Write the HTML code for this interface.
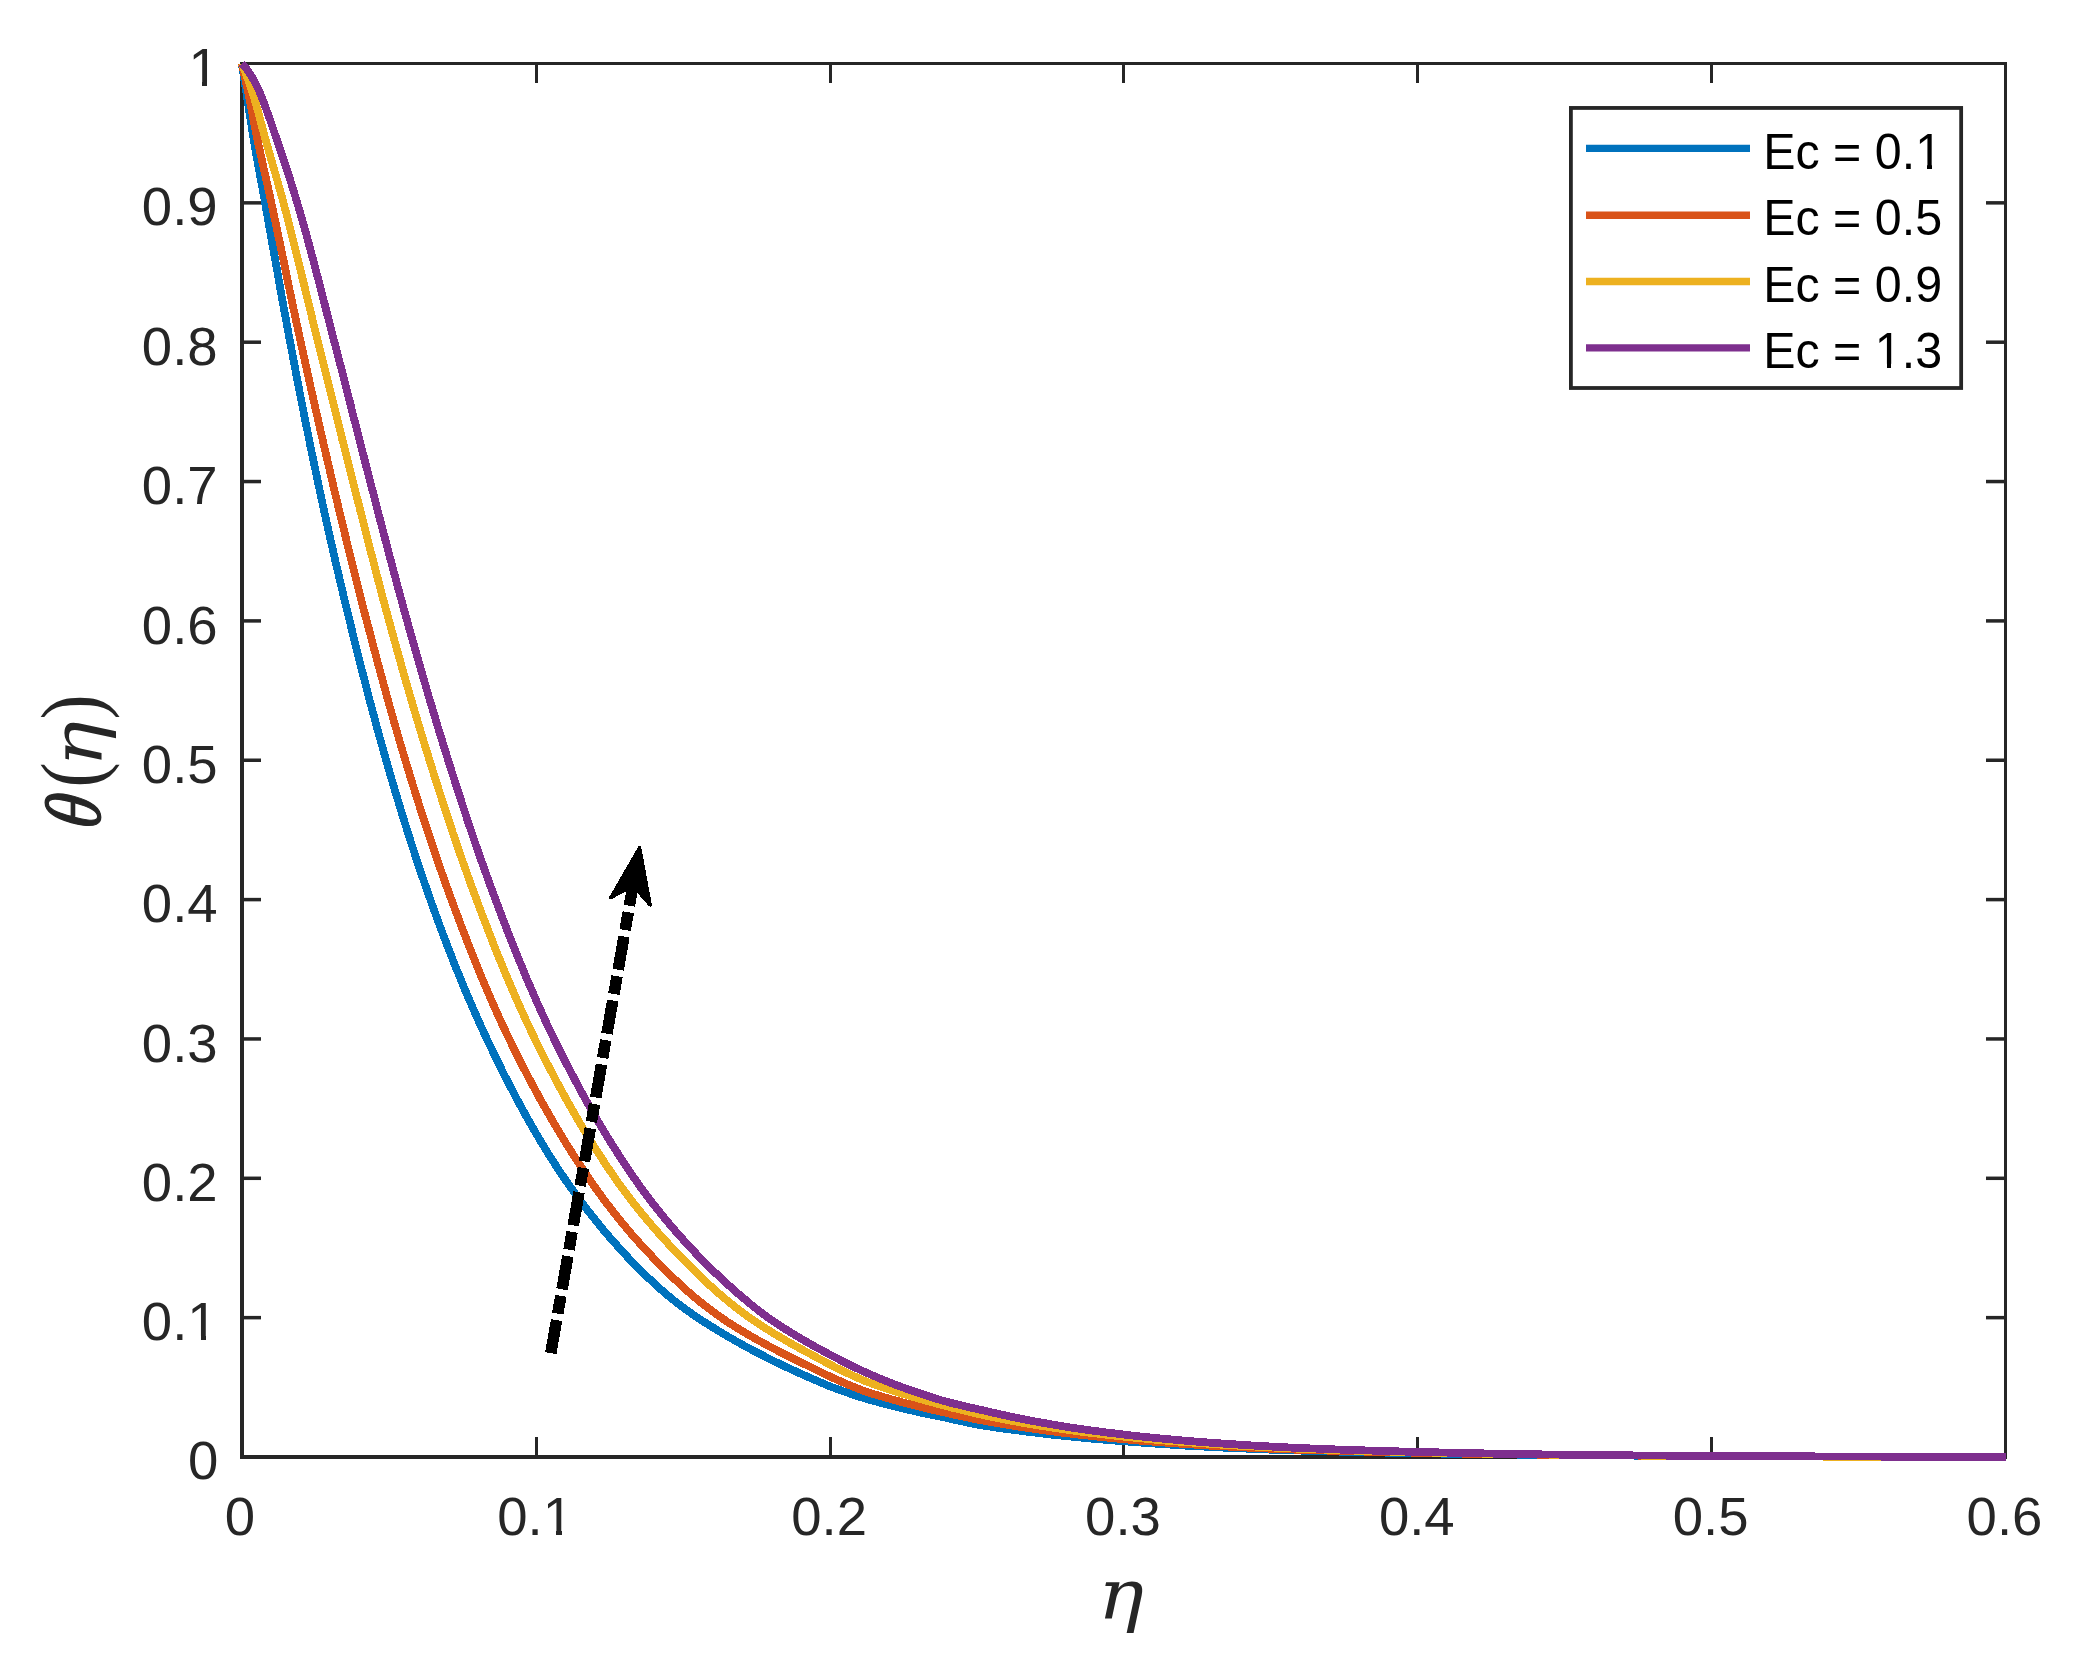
<!DOCTYPE html>
<html lang="en"><head><meta charset="utf-8"><title>θ(η) versus η for several Ec</title>
<style>html,body{margin:0;padding:0;background:#fff}body{width:2078px;height:1671px;overflow:hidden}svg{display:block}.tk{font-family:"Liberation Sans",sans-serif;font-size:54.5px;fill:#262626}.lg{font-family:"Liberation Sans",sans-serif;font-size:50px;fill:#000}.mi{font-style:italic;fill:#262626}.mr{fill:#262626}</style></head><body>
<svg width="2078" height="1671" viewBox="0 0 2078 1671">
<rect width="2078" height="1671" fill="#fff"/>
<g fill="#262626" shape-rendering="crispEdges">
<rect x="240" y="62" width="4" height="1397"/>
<rect x="240" y="1455" width="1767" height="4"/>
<rect x="240" y="62" width="1767" height="3"/>
<rect x="2004" y="62" width="3" height="1397"/>
<rect x="535" y="1437" width="3" height="18"/>
<rect x="535" y="65" width="3" height="18"/>
<rect x="829" y="1437" width="3" height="18"/>
<rect x="829" y="65" width="3" height="18"/>
<rect x="1122" y="1437" width="3" height="18"/>
<rect x="1122" y="65" width="3" height="18"/>
<rect x="1416" y="1437" width="3" height="18"/>
<rect x="1416" y="65" width="3" height="18"/>
<rect x="1710" y="1437" width="3" height="18"/>
<rect x="1710" y="65" width="3" height="18"/>
</g>
<g fill="#262626">
<rect x="244" y="201.10" width="17" height="3.5"/>
<rect x="1986" y="201.10" width="18" height="3.5"/>
<rect x="244" y="340.45" width="17" height="3.5"/>
<rect x="1986" y="340.45" width="18" height="3.5"/>
<rect x="244" y="479.80" width="17" height="3.5"/>
<rect x="1986" y="479.80" width="18" height="3.5"/>
<rect x="244" y="619.15" width="17" height="3.5"/>
<rect x="1986" y="619.15" width="18" height="3.5"/>
<rect x="244" y="758.50" width="17" height="3.5"/>
<rect x="1986" y="758.50" width="18" height="3.5"/>
<rect x="244" y="897.85" width="17" height="3.5"/>
<rect x="1986" y="897.85" width="18" height="3.5"/>
<rect x="244" y="1037.20" width="17" height="3.5"/>
<rect x="1986" y="1037.20" width="18" height="3.5"/>
<rect x="244" y="1176.55" width="17" height="3.5"/>
<rect x="1986" y="1176.55" width="18" height="3.5"/>
<rect x="244" y="1315.90" width="17" height="3.5"/>
<rect x="1986" y="1315.90" width="18" height="3.5"/>
</g>
<g fill="none" stroke-width="7.8" stroke-linejoin="round" stroke-linecap="butt" shape-rendering="crispEdges">
<path stroke="#0072BD" d="M241.8 63.5 L243.1 71.8 L244.4 80.2 L245.7 88.5 L247.0 96.9 L248.3 105.2 L249.6 113.5 L250.9 121.9 L252.2 130.2 L253.6 138.6 L255.0 146.9 L256.4 155.2 L257.9 163.5 L259.4 171.8 L260.9 180.1 L262.5 188.4 L264.0 196.7 L265.5 205.0 L266.9 213.3 L268.4 221.6 L269.9 230.0 L271.4 238.3 L272.8 246.6 L274.3 254.9 L275.8 263.2 L277.3 271.5 L278.7 279.8 L280.2 288.1 L281.7 296.4 L283.2 304.8 L284.7 313.1 L286.3 321.4 L287.8 329.7 L289.3 338.0 L290.9 346.2 L292.5 354.5 L294.1 362.8 L295.6 371.1 L297.2 379.4 L298.8 387.7 L300.4 396.0 L302.1 404.3 L303.7 412.6 L305.3 420.8 L307.0 429.1 L308.7 437.4 L310.3 445.7 L312.0 453.9 L313.8 462.2 L315.5 470.5 L317.2 478.7 L319.0 487.0 L320.7 495.2 L322.5 503.5 L324.3 511.7 L326.1 520.0 L328.0 528.2 L329.8 536.4 L331.7 544.7 L333.6 552.9 L335.4 561.1 L337.3 569.4 L339.3 577.6 L341.2 585.8 L343.1 594.0 L345.1 602.2 L347.1 610.4 L349.1 618.6 L351.1 626.8 L353.1 635.0 L355.1 643.2 L357.2 651.4 L359.2 659.6 L361.3 667.8 L363.4 676.0 L365.5 684.2 L367.6 692.3 L369.7 700.5 L371.9 708.7 L374.1 716.8 L376.3 725.0 L378.5 733.1 L380.8 741.2 L383.1 749.4 L385.4 757.5 L387.7 765.6 L390.0 773.7 L392.4 781.8 L394.8 789.9 L397.2 798.0 L399.7 806.1 L402.1 814.1 L404.6 822.2 L407.2 830.3 L409.7 838.3 L412.3 846.4 L414.9 854.4 L417.5 862.4 L420.2 870.4 L422.9 878.4 L425.7 886.4 L428.5 894.4 L431.3 902.3 L434.1 910.2 L437.0 918.2 L439.9 926.1 L442.9 934.0 L445.9 941.9 L448.9 949.8 L452.0 957.7 L455.1 965.6 L458.3 973.4 L461.5 981.2 L464.7 989.1 L468.0 996.8 L471.4 1004.6 L474.7 1012.3 L478.2 1020.0 L481.6 1027.7 L485.2 1035.3 L488.7 1042.9 L492.4 1050.5 L496.0 1058.1 L499.8 1065.7 L503.5 1073.3 L507.4 1080.9 L511.3 1088.4 L515.2 1095.9 L519.2 1103.4 L523.3 1110.9 L527.4 1118.3 L531.6 1125.7 L535.8 1133.0 L540.1 1140.3 L544.5 1147.5 L548.9 1154.7 L553.4 1161.8 L558.0 1168.8 L562.6 1175.7 L567.3 1182.6 L572.2 1189.5 L577.1 1196.3 L582.2 1203.1 L587.3 1209.9 L592.6 1216.6 L597.9 1223.2 L603.3 1229.8 L608.8 1236.2 L614.4 1242.6 L620.1 1248.9 L625.8 1255.2 L631.6 1261.3 L637.5 1267.3 L643.4 1273.2 L649.5 1279.0 L655.7 1284.8 L662.0 1290.4 L668.5 1296.0 L675.1 1301.4 L681.8 1306.5 L688.6 1311.5 L695.4 1316.2 L702.4 1320.8 L709.4 1325.3 L716.5 1329.7 L723.7 1334.1 L731.0 1338.3 L738.4 1342.5 L745.8 1346.6 L753.3 1350.6 L760.9 1354.5 L768.5 1358.4 L776.1 1362.2 L783.8 1365.9 L791.5 1369.5 L799.2 1373.0 L806.9 1376.5 L814.7 1379.9 L822.4 1383.2 L830.2 1386.5 L838.1 1389.4 L846.1 1392.2 L854.1 1395.0 L862.1 1397.6 L870.2 1400.0 L878.3 1402.2 L886.5 1404.4 L894.6 1406.5 L902.8 1408.5 L911.1 1410.4 L919.3 1412.3 L927.5 1414.0 L935.8 1415.7 L944.1 1417.4 L952.3 1419.3 L960.6 1421.1 L968.8 1422.8 L977.1 1424.5 L985.4 1425.9 L993.8 1427.2 L1002.1 1428.4 L1010.5 1429.5 L1018.9 1430.6 L1027.2 1431.7 L1035.6 1432.7 L1044.0 1433.7 L1052.4 1434.7 L1060.8 1435.6 L1069.2 1436.4 L1077.6 1437.3 L1086.0 1438.1 L1094.4 1438.9 L1102.8 1439.6 L1111.2 1440.3 L1119.6 1441.0 L1128.0 1441.6 L1136.4 1442.3 L1144.9 1442.9 L1153.3 1443.5 L1161.7 1444.1 L1170.1 1444.6 L1178.5 1445.2 L1187.0 1445.7 L1195.4 1446.1 L1203.8 1446.6 L1212.3 1447.0 L1220.7 1447.5 L1229.1 1447.9 L1237.6 1448.3 L1246.0 1448.6 L1254.4 1449.0 L1262.9 1449.4 L1271.3 1449.7 L1279.7 1450.0 L1288.2 1450.3 L1296.6 1450.5 L1305.0 1450.7 L1313.5 1451.0 L1321.9 1451.2 L1330.4 1451.4 L1338.8 1451.6 L1347.2 1451.8 L1355.7 1452.0 L1364.1 1452.2 L1372.5 1452.3 L1381.0 1452.5 L1389.4 1452.7 L1397.9 1452.8 L1406.3 1453.0 L1414.7 1453.1 L1423.2 1453.3 L1431.6 1453.4 L1440.1 1453.6 L1448.5 1453.7 L1456.9 1453.8 L1465.4 1453.9 L1473.8 1454.0 L1482.3 1454.2 L1490.7 1454.3 L1499.1 1454.4 L1507.6 1454.5 L1516.0 1454.6 L1524.5 1454.7 L1532.9 1454.7 L1541.3 1454.8 L1549.8 1454.9 L1558.2 1455.0 L1566.7 1455.1 L1575.1 1455.2 L1583.6 1455.2 L1592.0 1455.3 L1600.4 1455.4 L1608.9 1455.4 L1617.3 1455.5 L1625.8 1455.6 L1634.2 1455.6 L1642.6 1455.7 L1651.1 1455.7 L1659.5 1455.8 L1668.0 1455.9 L1676.4 1455.9 L1684.8 1456.0 L1693.3 1456.0 L1701.7 1456.1 L1710.2 1456.1 L1718.6 1456.1 L1727.0 1456.2 L1735.5 1456.2 L1743.9 1456.2 L1752.4 1456.3 L1760.8 1456.3 L1769.3 1456.3 L1777.7 1456.4 L1786.1 1456.4 L1794.6 1456.5 L1803.0 1456.5 L1811.5 1456.5 L1819.9 1456.6 L1828.3 1456.6 L1836.8 1456.6 L1845.2 1456.6 L1853.7 1456.7 L1862.1 1456.7 L1870.5 1456.7 L1879.0 1456.8 L1887.4 1456.8 L1895.9 1456.8 L1904.3 1456.8 L1912.7 1456.9 L1921.2 1456.9 L1929.6 1456.9 L1938.1 1456.9 L1946.5 1456.9 L1955.0 1456.9 L1963.4 1457.0 L1971.8 1457.0 L1980.3 1457.0 L1988.7 1457.0 L1997.2 1457.0 L2005.6 1457.0"/>
<path stroke="#D95319" d="M241.8 63.5 L243.6 71.7 L245.5 79.9 L247.2 88.1 L248.9 96.3 L250.6 104.5 L252.2 112.7 L253.7 121.0 L255.3 129.2 L257.0 137.4 L258.7 145.6 L260.5 153.8 L262.3 162.0 L264.1 170.2 L266.0 178.4 L267.8 186.5 L269.6 194.7 L271.4 202.9 L273.1 211.1 L274.9 219.3 L276.6 227.5 L278.3 235.7 L280.1 243.9 L281.8 252.1 L283.5 260.3 L285.2 268.6 L286.9 276.8 L288.6 285.0 L290.3 293.2 L292.0 301.4 L293.7 309.6 L295.5 317.8 L297.2 326.0 L299.0 334.2 L300.8 342.4 L302.6 350.6 L304.4 358.8 L306.2 366.9 L308.0 375.1 L309.8 383.3 L311.6 391.5 L313.5 399.7 L315.3 407.9 L317.2 416.0 L319.0 424.2 L320.9 432.4 L322.8 440.6 L324.7 448.7 L326.6 456.9 L328.5 465.1 L330.4 473.2 L332.3 481.4 L334.2 489.5 L336.2 497.7 L338.1 505.9 L340.1 514.0 L342.0 522.2 L344.0 530.3 L346.0 538.5 L348.0 546.6 L350.0 554.7 L352.0 562.9 L354.0 571.0 L356.0 579.2 L358.1 587.3 L360.2 595.4 L362.2 603.5 L364.3 611.7 L366.4 619.8 L368.6 627.9 L370.7 636.0 L372.8 644.1 L375.0 652.2 L377.1 660.3 L379.3 668.4 L381.5 676.5 L383.7 684.6 L385.9 692.7 L388.1 700.8 L390.4 708.8 L392.7 716.9 L395.0 725.0 L397.3 733.0 L399.6 741.1 L402.0 749.1 L404.4 757.2 L406.8 765.2 L409.3 773.2 L411.7 781.2 L414.2 789.2 L416.7 797.2 L419.2 805.2 L421.8 813.2 L424.4 821.2 L427.0 829.2 L429.6 837.1 L432.3 845.1 L435.0 853.0 L437.7 861.0 L440.4 868.9 L443.2 876.8 L446.0 884.7 L448.9 892.6 L451.7 900.4 L454.6 908.3 L457.6 916.1 L460.5 924.0 L463.5 931.8 L466.6 939.7 L469.6 947.5 L472.7 955.3 L475.8 963.1 L479.0 970.9 L482.2 978.7 L485.5 986.4 L488.8 994.2 L492.1 1001.8 L495.5 1009.5 L498.9 1017.1 L502.4 1024.7 L506.0 1032.3 L509.6 1039.8 L513.2 1047.3 L516.9 1054.8 L520.7 1062.3 L524.5 1069.8 L528.4 1077.2 L532.4 1084.7 L536.4 1092.1 L540.4 1099.5 L544.5 1106.8 L548.7 1114.1 L552.9 1121.4 L557.2 1128.7 L561.5 1135.9 L565.9 1143.1 L570.4 1150.2 L574.8 1157.2 L579.4 1164.2 L584.0 1171.2 L588.6 1178.1 L593.4 1185.0 L598.2 1191.8 L603.2 1198.6 L608.2 1205.3 L613.4 1212.0 L618.6 1218.6 L624.0 1225.1 L629.4 1231.6 L634.9 1237.9 L640.4 1244.1 L646.1 1250.2 L651.8 1256.3 L657.6 1262.4 L663.6 1268.4 L669.6 1274.4 L675.7 1280.2 L681.9 1286.0 L688.2 1291.7 L694.6 1297.2 L701.0 1302.5 L707.6 1307.7 L714.2 1312.6 L720.9 1317.4 L727.7 1322.0 L734.7 1326.5 L741.8 1330.8 L749.0 1335.1 L756.3 1339.2 L763.7 1343.3 L771.1 1347.3 L778.6 1351.2 L786.1 1355.1 L793.7 1358.9 L801.3 1362.6 L808.9 1366.3 L816.5 1370.0 L824.0 1373.7 L831.6 1377.3 L839.2 1380.7 L846.9 1384.1 L854.7 1387.3 L862.5 1390.4 L870.4 1393.1 L878.4 1395.5 L886.5 1397.9 L894.5 1400.1 L902.6 1402.4 L910.7 1404.5 L918.9 1406.5 L927.0 1408.5 L935.2 1410.4 L943.4 1412.2 L951.5 1414.1 L959.7 1415.9 L967.9 1417.6 L976.2 1419.3 L984.4 1420.9 L992.6 1422.3 L1000.9 1423.8 L1009.2 1425.1 L1017.5 1426.5 L1025.7 1427.7 L1034.0 1428.9 L1042.3 1430.1 L1050.7 1431.2 L1059.0 1432.3 L1067.3 1433.3 L1075.6 1434.3 L1083.9 1435.2 L1092.3 1436.1 L1100.6 1437.0 L1109.0 1437.8 L1117.3 1438.6 L1125.7 1439.4 L1134.0 1440.2 L1142.4 1440.9 L1150.7 1441.5 L1159.1 1442.2 L1167.4 1442.8 L1175.8 1443.4 L1184.2 1444.0 L1192.5 1444.5 L1200.9 1445.1 L1209.3 1445.6 L1217.6 1446.1 L1226.0 1446.5 L1234.4 1447.0 L1242.8 1447.4 L1251.1 1447.8 L1259.5 1448.2 L1267.9 1448.6 L1276.3 1449.0 L1284.6 1449.3 L1293.0 1449.6 L1301.4 1449.8 L1309.8 1450.1 L1318.2 1450.3 L1326.5 1450.6 L1334.9 1450.8 L1343.3 1451.1 L1351.7 1451.3 L1360.1 1451.5 L1368.4 1451.7 L1376.8 1451.9 L1385.2 1452.1 L1393.6 1452.3 L1402.0 1452.4 L1410.4 1452.6 L1418.7 1452.8 L1427.1 1452.9 L1435.5 1453.1 L1443.9 1453.3 L1452.3 1453.4 L1460.6 1453.6 L1469.0 1453.7 L1477.4 1453.8 L1485.8 1453.9 L1494.2 1454.1 L1502.6 1454.2 L1510.9 1454.3 L1519.3 1454.4 L1527.7 1454.5 L1536.1 1454.6 L1544.5 1454.7 L1552.9 1454.8 L1561.2 1454.9 L1569.6 1455.0 L1578.0 1455.1 L1586.4 1455.2 L1594.8 1455.2 L1603.2 1455.3 L1611.6 1455.4 L1619.9 1455.5 L1628.3 1455.5 L1636.7 1455.6 L1645.1 1455.7 L1653.5 1455.7 L1661.9 1455.8 L1670.2 1455.9 L1678.6 1455.9 L1687.0 1456.0 L1695.4 1456.0 L1703.8 1456.1 L1712.2 1456.1 L1720.5 1456.1 L1728.9 1456.2 L1737.3 1456.2 L1745.7 1456.3 L1754.1 1456.3 L1762.5 1456.3 L1770.8 1456.4 L1779.2 1456.4 L1787.6 1456.4 L1796.0 1456.5 L1804.4 1456.5 L1812.8 1456.5 L1821.1 1456.6 L1829.5 1456.6 L1837.9 1456.6 L1846.3 1456.7 L1854.7 1456.7 L1863.1 1456.7 L1871.5 1456.8 L1879.8 1456.8 L1888.2 1456.8 L1896.6 1456.8 L1905.0 1456.9 L1913.4 1456.9 L1921.8 1456.9 L1930.1 1456.9 L1938.5 1456.9 L1946.9 1456.9 L1955.3 1457.0 L1963.7 1457.0 L1972.1 1457.0 L1980.4 1457.0 L1988.8 1457.0 L1997.2 1457.0 L2005.6 1457.0"/>
<path stroke="#EDB120" d="M241.8 63.5 L244.9 71.3 L247.8 79.1 L250.6 86.9 L253.2 94.8 L255.6 102.7 L257.9 110.7 L260.0 118.8 L262.1 126.9 L264.2 134.9 L266.5 142.9 L268.8 150.9 L271.1 158.9 L273.4 166.9 L275.7 174.9 L278.0 182.9 L280.2 190.9 L282.4 198.9 L284.6 207.0 L286.7 215.0 L288.7 223.1 L290.8 231.1 L292.8 239.2 L294.9 247.3 L296.9 255.3 L298.9 263.4 L300.8 271.5 L302.8 279.6 L304.8 287.7 L306.7 295.8 L308.7 303.9 L310.7 311.9 L312.6 320.0 L314.6 328.1 L316.6 336.2 L318.6 344.3 L320.6 352.3 L322.6 360.4 L324.6 368.5 L326.7 376.6 L328.7 384.6 L330.7 392.7 L332.7 400.8 L334.7 408.9 L336.7 416.9 L338.7 425.0 L340.7 433.1 L342.7 441.2 L344.8 449.2 L346.8 457.3 L348.8 465.4 L350.9 473.4 L352.9 481.5 L355.0 489.6 L357.0 497.6 L359.1 505.7 L361.1 513.8 L363.2 521.8 L365.2 529.9 L367.3 538.0 L369.3 546.0 L371.4 554.1 L373.5 562.2 L375.6 570.2 L377.7 578.3 L379.8 586.3 L381.9 594.4 L384.0 602.4 L386.2 610.4 L388.4 618.5 L390.6 626.5 L392.8 634.5 L395.0 642.5 L397.2 650.5 L399.5 658.6 L401.7 666.6 L404.0 674.6 L406.3 682.6 L408.6 690.6 L410.9 698.6 L413.3 706.6 L415.6 714.5 L418.0 722.5 L420.4 730.5 L422.8 738.5 L425.2 746.4 L427.7 754.4 L430.1 762.3 L432.6 770.2 L435.1 778.2 L437.6 786.1 L440.2 794.0 L442.7 802.0 L445.3 809.9 L447.9 817.8 L450.5 825.7 L453.1 833.6 L455.8 841.5 L458.5 849.4 L461.2 857.2 L464.0 865.1 L466.8 872.9 L469.6 880.8 L472.4 888.6 L475.3 896.4 L478.2 904.1 L481.1 911.9 L484.1 919.7 L487.1 927.5 L490.1 935.3 L493.1 943.0 L496.2 950.8 L499.3 958.5 L502.5 966.2 L505.7 974.0 L508.9 981.6 L512.2 989.3 L515.5 996.9 L518.9 1004.6 L522.3 1012.1 L525.7 1019.7 L529.3 1027.2 L532.8 1034.7 L536.4 1042.1 L540.1 1049.6 L543.8 1057.0 L547.6 1064.4 L551.5 1071.8 L555.3 1079.2 L559.3 1086.6 L563.3 1093.9 L567.3 1101.3 L571.5 1108.5 L575.6 1115.8 L579.8 1123.0 L584.1 1130.2 L588.5 1137.3 L592.8 1144.4 L597.3 1151.4 L601.8 1158.4 L606.3 1165.3 L611.0 1172.2 L615.6 1178.9 L620.4 1185.7 L625.4 1192.4 L630.4 1199.0 L635.5 1205.6 L640.8 1212.2 L646.1 1218.6 L651.5 1225.0 L657.0 1231.3 L662.5 1237.5 L668.1 1243.6 L673.8 1249.7 L679.5 1255.7 L685.3 1261.6 L691.2 1267.6 L697.2 1273.5 L703.3 1279.3 L709.4 1285.0 L715.6 1290.6 L721.9 1296.1 L728.3 1301.4 L734.8 1306.6 L741.3 1311.7 L747.9 1316.5 L754.7 1321.2 L761.5 1325.8 L768.6 1330.2 L775.7 1334.6 L782.9 1338.8 L790.1 1343.0 L797.4 1347.0 L804.8 1351.1 L812.2 1355.0 L819.5 1359.0 L826.9 1362.9 L834.3 1366.8 L841.7 1370.4 L849.3 1374.0 L856.8 1377.4 L864.5 1380.8 L872.2 1383.7 L880.1 1386.5 L888.0 1389.1 L895.9 1391.7 L903.8 1394.2 L911.8 1396.6 L919.8 1398.9 L927.8 1401.2 L935.8 1403.3 L943.9 1405.4 L951.9 1407.6 L960.0 1409.6 L968.1 1411.6 L976.2 1413.5 L984.3 1415.3 L992.4 1417.0 L1000.6 1418.7 L1008.8 1420.2 L1017.0 1421.8 L1025.1 1423.2 L1033.4 1424.6 L1041.6 1425.9 L1049.8 1427.2 L1058.0 1428.5 L1066.3 1429.6 L1074.5 1430.8 L1082.7 1431.9 L1091.0 1432.9 L1099.3 1433.9 L1107.5 1434.9 L1115.8 1435.8 L1124.1 1436.7 L1132.3 1437.5 L1140.6 1438.3 L1148.9 1439.1 L1157.2 1439.9 L1165.5 1440.6 L1173.8 1441.3 L1182.1 1441.9 L1190.4 1442.5 L1198.7 1443.1 L1207.0 1443.7 L1215.3 1444.3 L1223.6 1444.8 L1231.9 1445.3 L1240.2 1445.8 L1248.5 1446.3 L1256.8 1446.7 L1265.1 1447.2 L1273.4 1447.6 L1281.8 1448.0 L1290.1 1448.3 L1298.4 1448.7 L1306.7 1449.0 L1315.0 1449.3 L1323.3 1449.6 L1331.6 1449.9 L1340.0 1450.2 L1348.3 1450.4 L1356.6 1450.7 L1364.9 1451.0 L1373.2 1451.2 L1381.5 1451.4 L1389.9 1451.6 L1398.2 1451.9 L1406.5 1452.1 L1414.8 1452.3 L1423.1 1452.4 L1431.5 1452.6 L1439.8 1452.8 L1448.1 1453.0 L1456.4 1453.2 L1464.7 1453.3 L1473.1 1453.5 L1481.4 1453.6 L1489.7 1453.8 L1498.0 1453.9 L1506.3 1454.0 L1514.7 1454.2 L1523.0 1454.3 L1531.3 1454.4 L1539.6 1454.5 L1547.9 1454.6 L1556.3 1454.7 L1564.6 1454.8 L1572.9 1454.9 L1581.2 1455.0 L1589.5 1455.1 L1597.9 1455.2 L1606.2 1455.3 L1614.5 1455.3 L1622.8 1455.4 L1631.1 1455.5 L1639.5 1455.6 L1647.8 1455.7 L1656.1 1455.7 L1664.4 1455.8 L1672.8 1455.9 L1681.1 1455.9 L1689.4 1456.0 L1697.7 1456.0 L1706.0 1456.1 L1714.4 1456.1 L1722.7 1456.2 L1731.0 1456.2 L1739.3 1456.2 L1747.6 1456.3 L1756.0 1456.3 L1764.3 1456.3 L1772.6 1456.4 L1780.9 1456.4 L1789.2 1456.5 L1797.6 1456.5 L1805.9 1456.5 L1814.2 1456.6 L1822.5 1456.6 L1830.9 1456.6 L1839.2 1456.7 L1847.5 1456.7 L1855.8 1456.7 L1864.1 1456.7 L1872.5 1456.8 L1880.8 1456.8 L1889.1 1456.8 L1897.4 1456.8 L1905.7 1456.9 L1914.1 1456.9 L1922.4 1456.9 L1930.7 1456.9 L1939.0 1456.9 L1947.4 1457.0 L1955.7 1457.0 L1964.0 1457.0 L1972.3 1457.0 L1980.6 1457.0 L1989.0 1457.0 L1997.3 1457.0 L2005.6 1457.0"/>
<path stroke="#7E2F8E" d="M241.8 63.5 L247.2 69.8 L251.8 76.7 L255.8 83.9 L259.4 91.4 L262.5 99.1 L265.4 106.8 L268.2 114.6 L271.0 122.4 L273.6 130.3 L276.3 138.1 L279.0 146.0 L281.6 153.8 L284.2 161.7 L286.8 169.5 L289.4 177.4 L291.9 185.3 L294.3 193.2 L296.7 201.1 L299.1 209.1 L301.4 217.0 L303.6 225.0 L305.9 233.0 L308.1 241.0 L310.2 249.0 L312.4 257.0 L314.5 265.0 L316.6 273.0 L318.7 281.0 L320.7 289.0 L322.8 297.1 L324.9 305.1 L326.9 313.1 L329.0 321.1 L331.1 329.2 L333.1 337.2 L335.2 345.2 L337.3 353.2 L339.4 361.2 L341.5 369.2 L343.5 377.3 L345.6 385.3 L347.6 393.3 L349.7 401.3 L351.7 409.4 L353.7 417.4 L355.8 425.4 L357.8 433.5 L359.9 441.5 L361.9 449.5 L364.0 457.5 L366.0 465.5 L368.1 473.6 L370.2 481.6 L372.3 489.6 L374.4 497.6 L376.5 505.6 L378.5 513.7 L380.6 521.7 L382.7 529.7 L384.8 537.7 L386.9 545.7 L389.0 553.7 L391.1 561.7 L393.2 569.7 L395.4 577.7 L397.5 585.7 L399.7 593.7 L401.9 601.7 L404.0 609.7 L406.3 617.7 L408.5 625.7 L410.7 633.7 L413.0 641.6 L415.2 649.6 L417.5 657.6 L419.8 665.5 L422.1 673.5 L424.4 681.4 L426.7 689.4 L429.0 697.4 L431.4 705.3 L433.8 713.2 L436.1 721.2 L438.5 729.1 L441.0 737.0 L443.4 744.9 L445.9 752.8 L448.3 760.7 L450.8 768.6 L453.3 776.5 L455.9 784.4 L458.4 792.3 L461.0 800.2 L463.5 808.1 L466.1 815.9 L468.7 823.8 L471.4 831.7 L474.0 839.5 L476.7 847.4 L479.4 855.2 L482.2 863.0 L485.0 870.8 L487.8 878.6 L490.6 886.4 L493.5 894.1 L496.4 901.9 L499.3 909.6 L502.2 917.4 L505.2 925.1 L508.2 932.8 L511.3 940.6 L514.3 948.3 L517.4 956.0 L520.6 963.7 L523.7 971.3 L526.9 979.0 L530.2 986.6 L533.5 994.2 L536.8 1001.8 L540.2 1009.4 L543.6 1016.9 L547.1 1024.4 L550.7 1031.8 L554.2 1039.3 L557.9 1046.7 L561.6 1054.1 L565.3 1061.5 L569.1 1068.8 L573.0 1076.2 L576.9 1083.5 L580.8 1090.9 L584.8 1098.2 L588.9 1105.4 L593.0 1112.7 L597.2 1119.9 L601.4 1127.0 L605.7 1134.1 L610.0 1141.2 L614.4 1148.2 L618.9 1155.2 L623.4 1162.1 L627.9 1169.0 L632.6 1175.8 L637.3 1182.5 L642.1 1189.3 L647.0 1195.9 L652.0 1202.5 L657.2 1209.1 L662.4 1215.6 L667.7 1222.0 L673.1 1228.3 L678.6 1234.6 L684.1 1240.7 L689.7 1246.8 L695.3 1252.8 L701.1 1258.7 L706.9 1264.6 L712.8 1270.4 L718.8 1276.2 L724.9 1281.8 L731.1 1287.4 L737.3 1293.0 L743.7 1298.4 L750.0 1303.7 L756.5 1308.9 L763.0 1313.9 L769.7 1318.8 L776.6 1323.4 L783.5 1327.9 L790.5 1332.3 L797.6 1336.6 L804.7 1340.8 L811.9 1344.9 L819.2 1348.9 L826.5 1352.8 L833.8 1356.7 L841.2 1360.5 L848.5 1364.3 L856.0 1367.9 L863.5 1371.4 L871.1 1374.8 L878.7 1378.0 L886.4 1381.1 L894.1 1384.2 L901.8 1387.1 L909.6 1389.9 L917.5 1392.6 L925.3 1395.2 L933.2 1397.8 L941.1 1400.2 L949.1 1402.4 L957.1 1404.4 L965.2 1406.3 L973.3 1408.2 L981.3 1410.0 L989.4 1411.8 L997.5 1413.7 L1005.6 1415.5 L1013.7 1417.3 L1021.8 1418.9 L1029.9 1420.5 L1038.1 1422.0 L1046.2 1423.4 L1054.4 1424.8 L1062.6 1426.2 L1070.7 1427.5 L1078.9 1428.7 L1087.1 1429.9 L1095.3 1431.0 L1103.5 1432.1 L1111.8 1433.1 L1120.0 1434.1 L1128.2 1435.1 L1136.4 1436.0 L1144.7 1436.9 L1152.9 1437.7 L1161.2 1438.5 L1169.4 1439.3 L1177.7 1440.0 L1185.9 1440.8 L1194.2 1441.4 L1202.4 1442.1 L1210.7 1442.7 L1219.0 1443.3 L1227.2 1443.9 L1235.5 1444.4 L1243.7 1445.0 L1252.0 1445.5 L1260.3 1446.0 L1268.6 1446.4 L1276.8 1446.9 L1285.1 1447.3 L1293.4 1447.7 L1301.6 1448.0 L1309.9 1448.4 L1318.2 1448.7 L1326.5 1449.0 L1334.8 1449.4 L1343.0 1449.7 L1351.3 1449.9 L1359.6 1450.2 L1367.9 1450.5 L1376.1 1450.7 L1384.4 1451.0 L1392.7 1451.2 L1401.0 1451.5 L1409.3 1451.7 L1417.5 1451.9 L1425.8 1452.1 L1434.1 1452.3 L1442.4 1452.5 L1450.7 1452.7 L1458.9 1452.9 L1467.2 1453.1 L1475.5 1453.2 L1483.8 1453.4 L1492.1 1453.6 L1500.4 1453.7 L1508.6 1453.9 L1516.9 1454.0 L1525.2 1454.1 L1533.5 1454.3 L1541.8 1454.4 L1550.0 1454.5 L1558.3 1454.6 L1566.6 1454.7 L1574.9 1454.8 L1583.2 1454.9 L1591.5 1455.0 L1599.7 1455.1 L1608.0 1455.2 L1616.3 1455.2 L1624.6 1455.3 L1632.9 1455.4 L1641.2 1455.5 L1649.4 1455.5 L1657.7 1455.6 L1666.0 1455.6 L1674.3 1455.7 L1682.6 1455.7 L1690.8 1455.8 L1699.1 1455.8 L1707.4 1455.9 L1715.7 1455.9 L1724.0 1456.0 L1732.3 1456.0 L1740.5 1456.0 L1748.8 1456.1 L1757.1 1456.1 L1765.4 1456.1 L1773.7 1456.2 L1782.0 1456.2 L1790.2 1456.3 L1798.5 1456.3 L1806.8 1456.3 L1815.1 1456.4 L1823.4 1456.4 L1831.7 1456.4 L1839.9 1456.5 L1848.2 1456.5 L1856.5 1456.5 L1864.8 1456.5 L1873.1 1456.6 L1881.4 1456.6 L1889.6 1456.6 L1897.9 1456.6 L1906.2 1456.7 L1914.5 1456.7 L1922.8 1456.7 L1931.1 1456.7 L1939.3 1456.7 L1947.6 1456.8 L1955.9 1456.8 L1964.2 1456.8 L1972.5 1456.8 L1980.8 1456.8 L1989.0 1456.8 L1997.3 1456.8 L2005.6 1456.8"/>
</g>
<line x1="550.8" y1="1353.2" x2="632.8" y2="886.4" stroke="#000" stroke-width="11.5" stroke-dasharray="33.6 6.6 18.1 6.6" shape-rendering="crispEdges"/>
<polygon fill="#000" stroke="#000" stroke-width="3.5" stroke-linejoin="round" shape-rendering="crispEdges" points="639.6,847.8 610.9,897.6 633.0,885.4 650.1,904.8"/>
<g class="tk" text-anchor="end">
<text x="218.7" y="86.1">1</text>
<text x="217.6" y="225.4">0.9</text>
<text x="217.6" y="364.8">0.8</text>
<text x="217.6" y="504.1">0.7</text>
<text x="217.6" y="643.5">0.6</text>
<text x="217.6" y="782.9">0.5</text>
<text x="217.6" y="922.2">0.4</text>
<text x="217.6" y="1061.5">0.3</text>
<text x="217.6" y="1200.9">0.2</text>
<text x="217.6" y="1340.2">0.1</text>
<text x="218.2" y="1478.8">0</text>
</g>
<g class="tk" text-anchor="middle">
<text x="240.0" y="1535.2">0</text>
<text x="535.2" y="1535.2">0.1</text>
<text x="829.1" y="1535.2">0.2</text>
<text x="1123.0" y="1535.2">0.3</text>
<text x="1416.8" y="1535.2">0.4</text>
<text x="1710.7" y="1535.2">0.5</text>
<text x="2004.5" y="1535.2">0.6</text>
</g>
<text class="mi" font-family="DejaVu Serif, serif" font-size="80" transform="translate(1098.00,1619.39) scale(0.9588,0.8758)">η</text>
<text class="mi" font-family="Liberation Serif, serif" font-size="80" transform="translate(99.57,830.46) rotate(-90) scale(0.8522,0.9806) skewX(-8)" stroke="#262626" stroke-width="1.3" stroke-linejoin="round">θ</text>
<text class="mr" font-family="Liberation Serif, serif" font-size="80" transform="translate(100.83,787.39) rotate(-90) scale(0.9412,1.0875)">(</text>
<text class="mi" font-family="DejaVu Serif, serif" font-size="80" transform="translate(101.67,766.87) rotate(-90) scale(0.9536,0.8591)">η</text>
<text class="mr" font-family="Liberation Serif, serif" font-size="80" transform="translate(100.83,719.45) rotate(-90) scale(0.9375,1.0875)">)</text>
<rect x="1570.9" y="107.95" width="390.25" height="280.05" fill="#fff" stroke="#262626" stroke-width="3.8"/>
<line x1="1586" x2="1750" y1="148.4" y2="148.4" stroke="#0072BD" stroke-width="7.4"/>
<text class="lg" transform="translate(1763.2,169) scale(0.968,1)">Ec = 0.1</text>
<line x1="1586" x2="1750" y1="215.2" y2="215.2" stroke="#D95319" stroke-width="7.4"/>
<text class="lg" transform="translate(1763.2,235.3) scale(0.968,1)">Ec = 0.5</text>
<line x1="1586" x2="1750" y1="281.5" y2="281.5" stroke="#EDB120" stroke-width="7.4"/>
<text class="lg" transform="translate(1763.2,301.8) scale(0.968,1)">Ec = 0.9</text>
<line x1="1586" x2="1750" y1="347.9" y2="347.9" stroke="#7E2F8E" stroke-width="7.4"/>
<text class="lg" transform="translate(1763.2,368.1) scale(0.968,1)">Ec = 1.3</text>
<g id="nofoot" fill="#fff"><rect x="191.0" y="81.8" width="11.0" height="5.2"/><rect x="207.0" y="81.8" width="10.0" height="5.2"/><rect x="190.0" y="1335.8" width="11.0" height="5.2"/><rect x="206.0" y="1335.8" width="10.0" height="5.2"/><rect x="546.0" y="1530.8" width="10.0" height="5.2"/><rect x="562.0" y="1530.8" width="10.0" height="5.2"/><rect x="1918.0" y="164.8" width="9.0" height="5.2"/><rect x="1932.0" y="164.8" width="9.0" height="5.2"/><rect x="1877.0" y="363.8" width="10.0" height="5.2"/><rect x="1891.0" y="363.8" width="10.0" height="5.2"/></g>
</svg></body></html>
